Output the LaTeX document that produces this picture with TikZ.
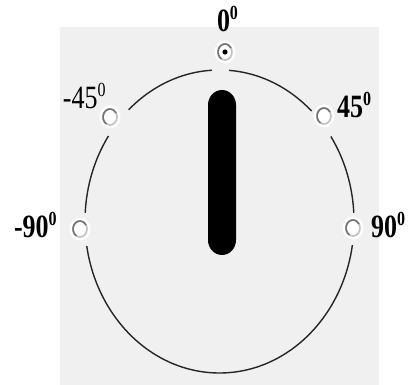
\documentclass[tikz,border=0pt]{standalone}
\usepackage{fontspec}
\setmainfont{Liberation Serif}
\definecolor{panel}{HTML}{F0F0F0}
\newcommand{\supzero}{\raisebox{10pt}{\fontsize{16}{16}\selectfont 0}}
\tikzset{
  lbl/.style={inner sep=0pt, outer sep=0pt, anchor=base west, font=\fontsize{26}{26}\selectfont},
  gap/.style={fill=panel},
}
\begin{document}
\begin{tikzpicture}[x=1pt,y=-1pt]
\useasboundingbox (0,0) rectangle (416,385);
\fill[white] (0,0) rectangle (416,385);
\fill[panel] (60,27) rectangle (379,385);
% dial outline
\draw[line width=1.4pt, black!85] (219.5,221.5) ellipse[x radius=134.5, y radius=151.5];
% gaps around the positions
\fill[gap] (220.5,70) circle[radius=8.5];
\fill[gap] (117.5,122) circle[radius=16.5];
\fill[gap] (323,122.5) circle[radius=16];
\fill[gap] (86.5,229.5) circle[radius=16.5];
\fill[gap] (353,229) circle[radius=16];
% pointer bar
\fill[black] (208,105) -- (208,240) arc[start angle=180, end angle=0, x radius=14, y radius=15]
  -- (236,105) arc[start angle=0, end angle=-180, x radius=14, y radius=15] -- cycle;
% radio buttons
\coordinate (p0) at (225,52);
\coordinate (pm45) at (110,117);
\coordinate (p45) at (324,116);
\coordinate (pm90) at (80,229);
\coordinate (p90) at (353,228);
\foreach \c in {p0,pm45,p45,pm90,p90} {
  \fill[white] (\c) ellipse[x radius=10.5, y radius=11.5];
  \draw[black!25, line width=1.6pt] (\c) ellipse[x radius=7, y radius=8];
  \draw[black!55, line width=1.6pt] (\c) ++(120:7 and 8) arc[start angle=120, end angle=330, x radius=7, y radius=8];
}
\fill[black] (p0) circle[radius=2.6];
% labels
\node[lbl] (l0) at (217,32) {\scalebox{1}[1.25]{\bfseries 0\supzero}};
\node[lbl] (lm45) at (63,109) {\scalebox{1}[1.25]{-45\supzero}};
\node[lbl] (l45) at (337,118) {\scalebox{1}[1.25]{\bfseries 45\supzero}};
\node[lbl] (lm90) at (14,238) {\scalebox{1}[1.25]{\bfseries -90\supzero}};
\node[lbl] (l90) at (371,238) {\scalebox{1}[1.25]{\bfseries 90\supzero}};
\end{tikzpicture}
\end{document}
